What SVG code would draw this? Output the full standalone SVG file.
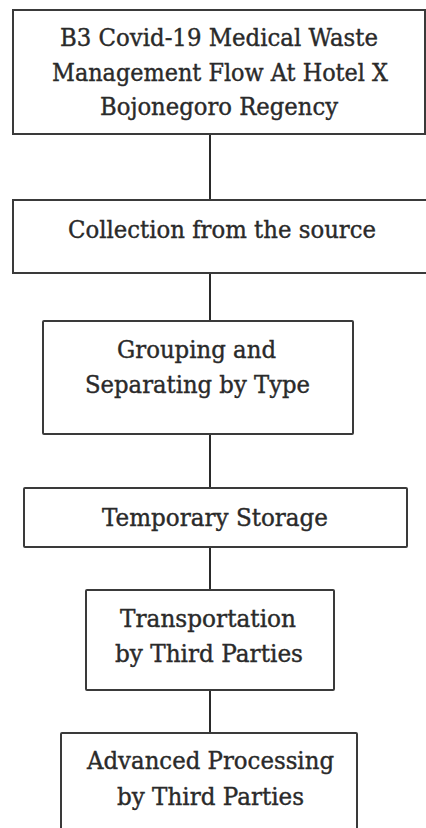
<svg xmlns="http://www.w3.org/2000/svg" width="426" height="828" viewBox="0 0 426 828">
<style>
.box{fill:#fff;stroke:#3a3a3a;stroke-width:2}
.t{font-family:"DejaVu Serif","Liberation Serif",serif;font-size:24px;fill:#2a2a2a;stroke:#2a2a2a;stroke-width:0.4;text-anchor:middle}
.c{stroke:#2a2a2a;stroke-width:2;fill:none}
</style>
<rect width="426" height="828" fill="#fff"/>
<g id="connectors">
<line class="c" x1="210" y1="134" x2="210" y2="200"/>
<line class="c" x1="210" y1="273" x2="210" y2="321"/>
<line class="c" x1="210" y1="434" x2="210" y2="488"/>
<line class="c" x1="210" y1="547" x2="210" y2="590"/>
<line class="c" x1="210" y1="690" x2="210" y2="733"/>
</g>
<g id="n1">
<rect class="box" x="13" y="10" width="412" height="124"/>
<text class="t" x="219" y="46" textLength="318" lengthAdjust="spacingAndGlyphs">B3 Covid-19 Medical Waste</text>
<text class="t" x="220" y="81" textLength="336" lengthAdjust="spacingAndGlyphs">Management Flow At Hotel X</text>
<text class="t" x="219" y="115" textLength="238" lengthAdjust="spacingAndGlyphs">Bojonegoro Regency</text>
</g>
<g id="n2">
<rect class="box" x="13" y="200" width="420" height="73"/>
<text class="t" x="222" y="238" textLength="308" lengthAdjust="spacingAndGlyphs">Collection from the source</text>
</g>
<g id="n3">
<rect class="box" x="43" y="321" width="310" height="113" rx="1"/>
<text class="t" x="196.5" y="358" textLength="159" lengthAdjust="spacingAndGlyphs">Grouping and</text>
<text class="t" x="197.5" y="393" textLength="225" lengthAdjust="spacingAndGlyphs">Separating by Type</text>
</g>
<g id="n4">
<rect class="box" x="24" y="488" width="383" height="59" rx="1"/>
<text class="t" x="215" y="526" textLength="226" lengthAdjust="spacingAndGlyphs">Temporary Storage</text>
</g>
<g id="n5">
<rect class="box" x="86" y="590" width="248" height="100" rx="1"/>
<text class="t" x="208" y="627" textLength="176" lengthAdjust="spacingAndGlyphs">Transportation</text>
<text class="t" x="209" y="662" textLength="188" lengthAdjust="spacingAndGlyphs">by Third Parties</text>
</g>
<g id="n6">
<rect class="box" x="61" y="733" width="296" height="110" rx="1"/>
<text class="t" x="210.5" y="769" textLength="247" lengthAdjust="spacingAndGlyphs">Advanced Processing</text>
<text class="t" x="210.5" y="805" textLength="187" lengthAdjust="spacingAndGlyphs">by Third Parties</text>
</g>
</svg>
